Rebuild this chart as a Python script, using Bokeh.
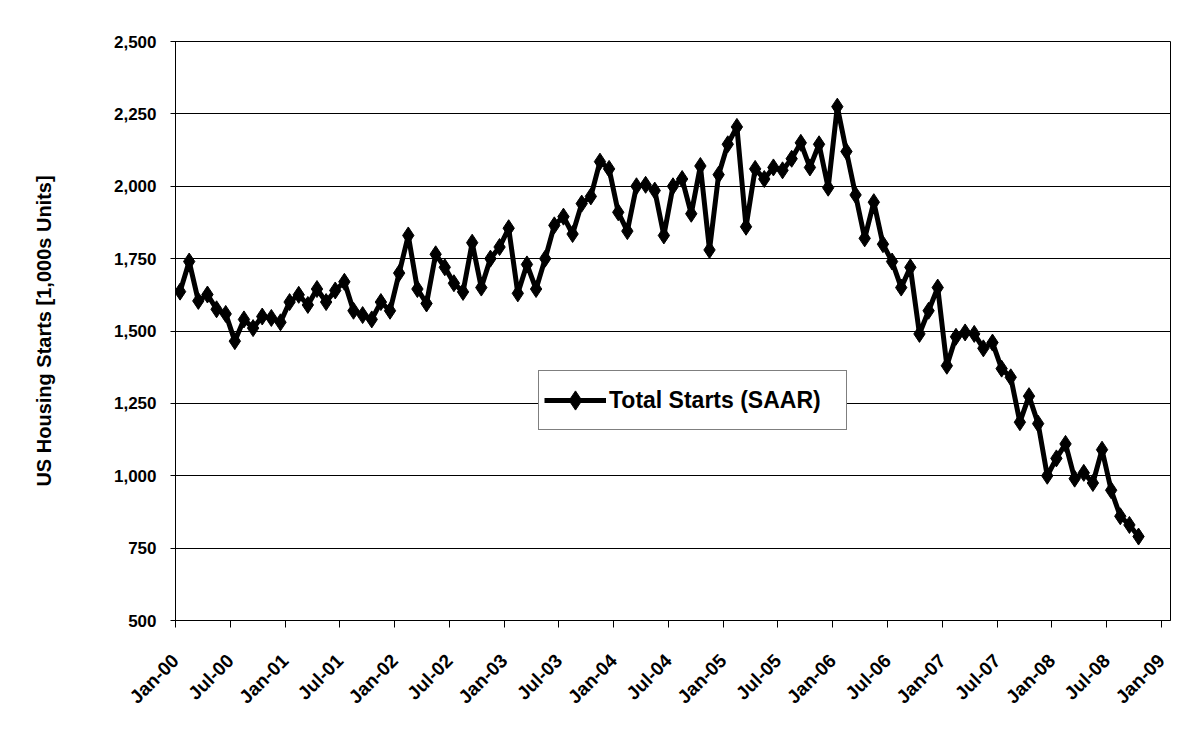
import math
from bokeh.plotting import figure
from bokeh.models import ColumnDataSource, FixedTicker, Legend, LegendItem, NumeralTickFormatter
from bokeh.embed import file_html
from bokeh.resources import INLINE

# Monthly US housing starts, SAAR, thousands of units, Jan-2000 .. Oct-2008
starts_2000 = [1636, 1740, 1604, 1626, 1575, 1559, 1465, 1540, 1510, 1550, 1545, 1530]
starts_2001 = [1600, 1625, 1590, 1645, 1600, 1640, 1670, 1570, 1555, 1540, 1600, 1570]
starts_2002 = [1700, 1830, 1645, 1595, 1765, 1720, 1665, 1635, 1805, 1650, 1750, 1790]
starts_2003 = [1855, 1630, 1730, 1645, 1750, 1865, 1895, 1835, 1940, 1965, 2085, 2060]
starts_2004 = [1910, 1845, 2000, 2005, 1985, 1830, 2000, 2025, 1905, 2070, 1780, 2040]
starts_2005 = [2145, 2205, 1860, 2060, 2025, 2065, 2055, 2095, 2150, 2065, 2145, 1995]
starts_2006 = [2275, 2120, 1970, 1820, 1945, 1800, 1740, 1650, 1720, 1490, 1570, 1650]
starts_2007 = [1380, 1480, 1495, 1490, 1440, 1460, 1370, 1340, 1185, 1275, 1180, 1000]
starts_2008 = [1060, 1110, 990, 1010, 975, 1090, 950, 860, 830, 790]

tick_labels = ["Jan-00", "Jul-00", "Jan-01", "Jul-01", "Jan-02", "Jul-02", "Jan-03",
               "Jul-03", "Jan-04", "Jul-04", "Jan-05", "Jul-05", "Jan-06", "Jul-06",
               "Jan-07", "Jul-07", "Jan-08", "Jul-08", "Jan-09"]
y_ticks = [500, 750, 1000, 1250, 1500, 1750, 2000, 2250, 2500]

values = (starts_2000 + starts_2001 + starts_2002 + starts_2003 + starts_2004
          + starts_2005 + starts_2006 + starts_2007 + starts_2008)
# month index (0 = Jan-00), plotted at the middle of each month
months = [i + 0.5 for i in range(len(values))]
tick_pos = [6 * k for k in range(len(tick_labels))]

src = ColumnDataSource(dict(x=months, y=values))

FONT = "Liberation Sans"

p = figure(width=1175, height=746, output_backend="svg", toolbar_location=None,
           x_range=(0, 109), y_range=(500, 2500),
           min_border_left=175, min_border_right=5, min_border_top=41, min_border_bottom=126)
p.background_fill_color = "white"
p.border_fill_color = "white"
p.outline_line_color = "black"
p.outline_line_width = 1

# grid
p.xgrid.grid_line_color = None
p.ygrid.grid_line_color = "black"
p.ygrid.grid_line_width = 1
p.ygrid.ticker = FixedTicker(ticks=y_ticks)

# y axis
p.yaxis.ticker = FixedTicker(ticks=y_ticks)
p.yaxis.formatter = NumeralTickFormatter(format="0,0")
p.yaxis.axis_label = "US Housing Starts [1,000s Units]"
p.yaxis.axis_label_text_font = FONT
p.yaxis.axis_label_text_font_style = "bold"
p.yaxis.axis_label_text_font_size = "20px"
p.yaxis.axis_label_text_color = "black"
p.yaxis.axis_label_standoff = 56
p.yaxis.major_label_text_font = FONT
p.yaxis.major_label_text_font_style = "bold"
p.yaxis.major_label_text_font_size = "17px"
p.yaxis.major_label_text_color = "black"
p.yaxis.major_tick_in = 4
p.yaxis.major_tick_out = 5
p.yaxis.minor_tick_line_color = None
p.yaxis.axis_line_color = "black"
p.yaxis.major_label_standoff = 14

# x axis
p.xaxis.ticker = FixedTicker(ticks=tick_pos)
p.xaxis.major_label_overrides = {pos: lab for pos, lab in zip(tick_pos, tick_labels)}
p.xaxis.major_label_orientation = math.pi / 4
p.xaxis.major_label_text_font = FONT
p.xaxis.major_label_text_font_style = "bold"
p.xaxis.major_label_text_font_size = "19px"
p.xaxis.major_label_text_color = "black"
p.xaxis.major_tick_in = 0
p.xaxis.major_tick_out = 7
p.xaxis.minor_tick_line_color = None
p.xaxis.axis_line_color = "black"
p.xaxis.major_label_standoff = 30

line = p.line("x", "y", source=src, line_color="black", line_width=5)
pts = p.scatter("x", "y", source=src, marker="diamond", size=17, fill_color="black",
                line_color="black")

legend = Legend(items=[LegendItem(label="Total Starts (SAAR)", renderers=[line, pts])],
                location=(363, 190))
legend.label_text_font = FONT
legend.label_text_font_style = "bold"
legend.label_text_font_size = "23px"
legend.label_text_color = "black"
legend.label_width = 232
legend.border_line_color = "black"
legend.border_line_width = 1
legend.glyph_width = 62
legend.glyph_height = 48
legend.padding = 5
legend.margin = 0
legend.label_standoff = 3
legend.background_fill_alpha = 1
p.add_layout(legend, "center")

open("out.html", "w").write(file_html(p, INLINE))
